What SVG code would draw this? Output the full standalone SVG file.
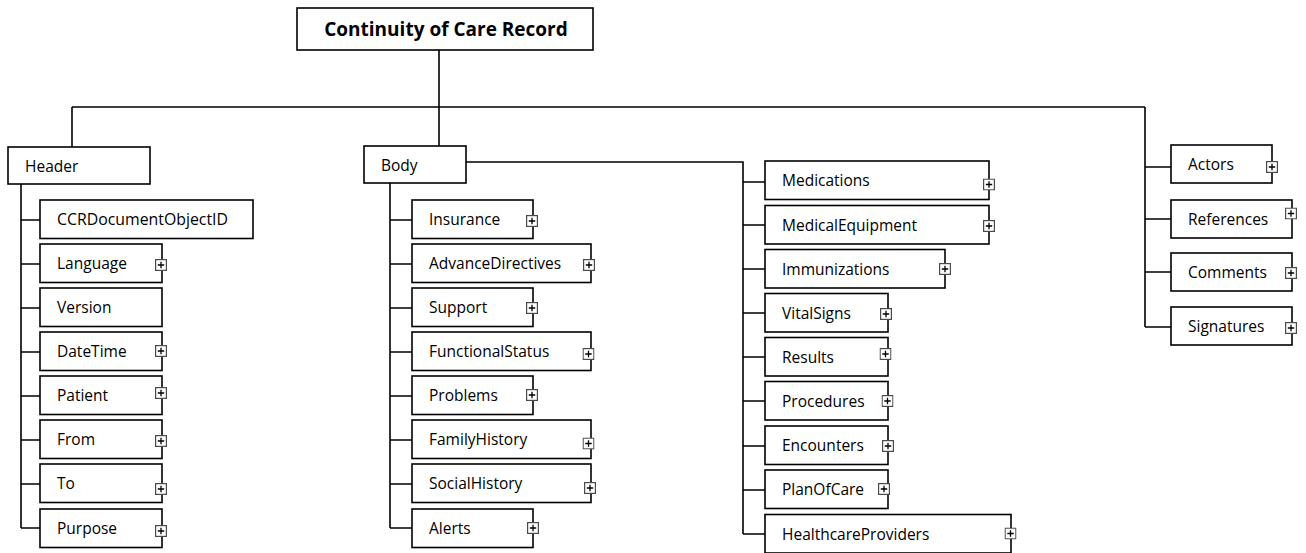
<svg xmlns="http://www.w3.org/2000/svg" xmlns:xlink="http://www.w3.org/1999/xlink" width="1306" height="553" viewBox="0 0 1306 553">
  <style>
    .box { fill: #ffffff; stroke: #000000; stroke-width: 1.6; }
    .lbl { font-family: "Open Sans", "Liberation Sans", sans-serif; font-size: 15.5px; fill: #000000; }
    .title { font-family: "Open Sans", "Liberation Sans", sans-serif; font-size: 19px; font-weight: bold; fill: #000000; }
    .wire { fill: none; stroke: #000000; stroke-width: 1.6; }
  </style>
  <defs>
    <!-- expand toggle shown on collapsible elements -->
    <symbol id="plus" viewBox="0 0 12 12" width="12" height="12">
      <rect x="0.6" y="0.6" width="10.8" height="10.8" fill="#ffffff" stroke="#4a4a4a" stroke-width="1.2"/>
      <path d="M2.8 6 H9.2 M6 2.8 V9.2" stroke="#000000" stroke-width="1.3"/>
    </symbol>
  </defs>
  <rect width="1306" height="553" fill="#ffffff"/>

  <!-- tree connectors -->
  <g id="connectors" class="wire">
    <path d="M439 50 V146 M72 107 H1145 M72 107 V147 M1145 107 V327"/>
    <!-- Header children -->
    <path d="M21 184 V528 M21 220 H40 M21 264 H40 M21 308 H40 M21 352 H40 M21 396 H40 M21 440 H40 M21 484 H40 M21 528 H40"/>
    <!-- Body children -->
    <path d="M390 183 V528 M390 220 H412 M390 264 H412 M390 308 H412 M390 352 H412 M390 396 H412 M390 440 H412 M390 484 H412 M390 528 H412"/>
    <path d="M466 162 H743 V534 M743 182 H765 M743 225 H765 M743 269 H765 M743 313 H765 M743 357 H765 M743 401 H765 M743 446 H765 M743 490 H765 M743 534 H765"/>
    <!-- trailing sections -->
    <path d="M1145 167 H1171 M1145 219 H1171 M1145 272 H1171 M1145 327 H1171"/>
  </g>

  <g id="ccr">
    <rect class="box" x="297" y="8" width="296" height="42"/>
    <text class="title" x="446" y="36" text-anchor="middle">Continuity of Care Record</text>
  </g>

  <g id="header">
    <rect class="box" x="8" y="147" width="142" height="37"/>
    <text class="lbl" x="25" y="172">Header</text>
  </g>
  <g id="body">
    <rect class="box" x="364" y="146" width="102" height="37"/>
    <text class="lbl" x="381" y="171">Body</text>
  </g>

  <!-- Header elements -->
  <g id="ccrdocumentobjectid"><rect class="box" x="40" y="200" width="213" height="38.5"/><text class="lbl" x="57" y="225" textLength="171" lengthAdjust="spacingAndGlyphs">CCRDocumentObjectID</text></g>
  <g id="language"><rect class="box" x="40" y="244" width="122" height="38.5"/><text class="lbl" x="57" y="269">Language</text><use href="#plus" x="155" y="259"/></g>
  <g id="version"><rect class="box" x="40" y="288" width="122" height="38.5"/><text class="lbl" x="57" y="313">Version</text></g>
  <g id="datetime"><rect class="box" x="40" y="332" width="122" height="38.5"/><text class="lbl" x="57" y="357">DateTime</text><use href="#plus" x="155" y="345"/></g>
  <g id="patient"><rect class="box" x="40" y="376" width="122" height="38.5"/><text class="lbl" x="57" y="401">Patient</text><use href="#plus" x="155" y="387"/></g>
  <g id="from"><rect class="box" x="40" y="420" width="122" height="38.5"/><text class="lbl" x="57" y="445">From</text><use href="#plus" x="155" y="435"/></g>
  <g id="to"><rect class="box" x="40" y="464" width="122" height="38.5"/><text class="lbl" x="57" y="489">To</text><use href="#plus" x="155" y="483"/></g>
  <g id="purpose"><rect class="box" x="40" y="509" width="122" height="38.5"/><text class="lbl" x="57" y="534">Purpose</text><use href="#plus" x="155" y="525"/></g>

  <!-- Body elements, first branch -->
  <g id="insurance"><rect class="box" x="412" y="200" width="121" height="38.5"/><text class="lbl" x="429" y="225">Insurance</text><use href="#plus" x="526" y="215"/></g>
  <g id="advancedirectives"><rect class="box" x="412" y="244" width="179" height="38.5"/><text class="lbl" x="429" y="269">AdvanceDirectives</text><use href="#plus" x="583" y="259"/></g>
  <g id="support"><rect class="box" x="412" y="288" width="121" height="38.5"/><text class="lbl" x="429" y="313">Support</text><use href="#plus" x="526" y="302"/></g>
  <g id="functionalstatus"><rect class="box" x="412" y="332" width="179" height="38.5"/><text class="lbl" x="429" y="357">FunctionalStatus</text><use href="#plus" x="582.5" y="348"/></g>
  <g id="problems"><rect class="box" x="412" y="376" width="121" height="38.5"/><text class="lbl" x="429" y="401">Problems</text><use href="#plus" x="526" y="389"/></g>
  <g id="familyhistory"><rect class="box" x="412" y="420" width="179" height="38.5"/><text class="lbl" x="429" y="445">FamilyHistory</text><use href="#plus" x="582.5" y="437.5"/></g>
  <g id="socialhistory"><rect class="box" x="412" y="464" width="179" height="38.5"/><text class="lbl" x="429" y="489">SocialHistory</text><use href="#plus" x="584" y="482"/></g>
  <g id="alerts"><rect class="box" x="412" y="509" width="121" height="38.5"/><text class="lbl" x="429" y="534">Alerts</text><use href="#plus" x="527" y="522"/></g>

  <!-- Body elements, second branch -->
  <g id="medications"><rect class="box" x="765" y="161" width="224" height="38.5"/><text class="lbl" x="782" y="186">Medications</text><use href="#plus" x="983" y="178.5"/></g>
  <g id="medicalequipment"><rect class="box" x="765" y="205.5" width="224" height="38.5"/><text class="lbl" x="782" y="230.5">MedicalEquipment</text><use href="#plus" x="983" y="220"/></g>
  <g id="immunizations"><rect class="box" x="765" y="249.5" width="180" height="38.5"/><text class="lbl" x="782" y="274.5">Immunizations</text><use href="#plus" x="939" y="263"/></g>
  <g id="vitalsigns"><rect class="box" x="765" y="293.5" width="123" height="38.5"/><text class="lbl" x="782" y="318.5">VitalSigns</text><use href="#plus" x="880" y="308"/></g>
  <g id="results"><rect class="box" x="765" y="337.5" width="123" height="38.5"/><text class="lbl" x="782" y="362.5">Results</text><use href="#plus" x="879.5" y="348"/></g>
  <g id="procedures"><rect class="box" x="765" y="381.5" width="123" height="38.5"/><text class="lbl" x="782" y="406.5">Procedures</text><use href="#plus" x="881.5" y="395"/></g>
  <g id="encounters"><rect class="box" x="765" y="426" width="123" height="38.5"/><text class="lbl" x="782" y="451">Encounters</text><use href="#plus" x="882" y="440"/></g>
  <g id="planofcare"><rect class="box" x="765" y="470" width="123" height="38.5"/><text class="lbl" x="782" y="495">PlanOfCare</text><use href="#plus" x="878" y="483"/></g>
  <g id="healthcareproviders"><rect class="box" x="765" y="514.5" width="246" height="38.5"/><text class="lbl" x="782" y="539.5">HealthcareProviders</text><use href="#plus" x="1004.5" y="527.5"/></g>

  <!-- trailing sections -->
  <g id="actors"><rect class="box" x="1171" y="145" width="101" height="38"/><text class="lbl" x="1188" y="170">Actors</text><use href="#plus" x="1266" y="161"/></g>
  <g id="references"><rect class="box" x="1171" y="200" width="121" height="38"/><text class="lbl" x="1188" y="225">References</text><use href="#plus" x="1285" y="207.5"/></g>
  <g id="comments"><rect class="box" x="1171" y="253" width="121" height="38"/><text class="lbl" x="1188" y="278">Comments</text><use href="#plus" x="1285" y="267"/></g>
  <g id="signatures"><rect class="box" x="1171" y="307" width="121" height="38"/><text class="lbl" x="1188" y="332">Signatures</text><use href="#plus" x="1285" y="322"/></g>
</svg>
